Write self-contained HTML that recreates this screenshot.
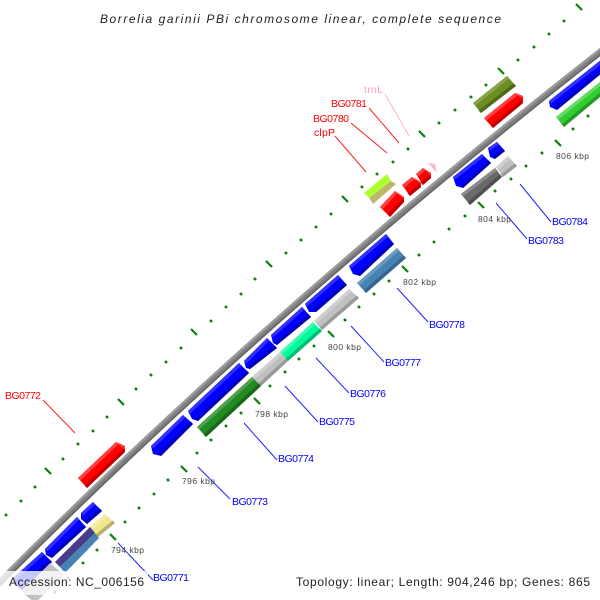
<!DOCTYPE html>
<html><head><meta charset="utf-8"><style>html,body{margin:0;padding:0;background:#fff}svg{display:block}text{font-family:"Liberation Sans","DejaVu Sans",sans-serif}</style></head><body>
<svg width="600" height="600" viewBox="0 0 600 600" xmlns="http://www.w3.org/2000/svg">
<rect width="600" height="600" fill="#fff"/>
<g stroke="#0a800a" fill="none">
<path stroke-width="2.6" d="M5 514l2 2M20 500l2 2M34 486l2 2M62 458l2 2M77 443l2 2M92 430l2 2M106 416l2 2M135 388l2 2M150 374l2 2M165 361l2 2M180 347l2 2M210 320l2 2M225 306l2 2M240 293l2 2M254 278l2 2M285 252l2 2M300 239l2 2M315 226l2 2M330 213l2 2M361 186l2 2M376 173l2 2M392 161l2 2M407 148l2 2M438 122l2 2M454 109l2 2M470 96l2 2M485 84l2 2M517 59l2 2M533 46l2 2M548 33l2 2M563 20l2 2"/>
<path stroke-width="2.2" d="M45 468l6 6M118 399l6 6M191 329l6 6M266 261l6 6M342 196l6 6M419 131l6 6M498 68l6 6M576 4l6 6"/>
<path stroke-width="2.6" d="M54 591l2 2M67 577l2 2M82 562l2 2M96 549l2 2M124 521l2 2M138 507l2 2M153 493l2 2M167 479l2 2M196 452l2 2M210 439l2 2M225 425l2 2M240 412l2 2M269 385l2 2M284 371l2 2M298 358l2 2M313 345l2 2M344 319l2 2M358 306l2 2M373 293l2 2M388 280l2 2M418 254l2 2M433 241l2 2M448 228l2 2M464 215l2 2M494 190l2 2M510 178l2 2M525 165l2 2M541 152l2 2M572 128l2 2M587 115l2 2M602 102l2 2"/>
<path stroke-width="2.2" d="M110 534l6 6M181 466l6 6M254 398l6 6M328 331l6 6M402 266l6 6M478 202l6 6M555 140l6 6"/>
</g>

<path d="M-10 592L0 582Q267 313 600 52L620 36" fill="none" stroke="#808080" stroke-width="6.5"/>
<path d="M-10 592L0 582Q267 313 600 52L620 36" fill="none" stroke="#9c9c9c" stroke-width="2.2" transform="translate(-1.4,-1.6)"/>
<path d="M-10 592L0 582Q267 313 600 52L620 36" fill="none" stroke="#686868" stroke-width="1.8" transform="translate(1.7,1.9)"/>

<!-- blue genes -->
<g fill="#0000ff">
<polygon points="93,502 102,511 87,524 81,519 81,513"/>
<polygon points="77,517 86,527 52,558 46,555 45,549"/>
<polygon points="42,552 52,562 22,590 14,584 13,578"/>
<polygon points="183,415 193,424 161,456 153,454 151,446"/>
<polygon points="239,363 249,373 198,421 192,419 188,411"/>
<polygon points="267,338 277,348 250,369 246,368 244,361"/>
<polygon points="302,307 311,317 277,345 273,343 271,335"/>
<polygon points="338,275 347,285 316,312 309,312 305,304"/>
<polygon points="386,234 394,244 360,276 353,274 349,266"/>
<polygon points="620,45 630,50 557,110 550,107 549,101"/>
<polygon points="497,142 505,151 495,159 490,157 488,148"/>
<polygon points="482,154 491,163 463,188 456,186 453,177"/>
</g>
<g fill="#3030ff">
<polygon points="81,513 93,502 95.3,504.5 83.3,515.5"/>
<polygon points="45,549 77,517 79.3,519.5 47.3,551.5"/>
<polygon points="13,578 42,552 44.3,554.5 15.3,580.5"/>
<polygon points="151,446 183,415 185.3,417.5 153.3,448.5"/>
<polygon points="188,411 239,363 241.3,365.5 190.3,413.5"/>
<polygon points="244,361 267,338 269.3,340.5 246.3,363.5"/>
<polygon points="271,335 302,307 304.3,309.5 273.3,337.5"/>
<polygon points="305,304 338,275 340.3,277.5 307.3,306.5"/>
<polygon points="349,266 386,234 388.3,236.5 351.3,268.5"/>
<polygon points="549,101 620,45 622.3,47.5 551.3,103.5"/>
<polygon points="488,148 497,142 499.3,144.5 490.3,150.5"/>
<polygon points="453,177 482,154 484.3,156.5 455.3,179.5"/>
</g>
<g fill="#0000b8">
<polygon points="87,524 102,511 99.7,508.5 84.7,521.5"/>
<polygon points="52,558 86,527 83.7,524.5 49.7,555.5"/>
<polygon points="22,590 52,562 49.7,559.5 19.7,587.5"/>
<polygon points="161,456 193,424 190.7,421.5 158.7,453.5"/>
<polygon points="198,421 249,373 246.7,370.5 195.7,418.5"/>
<polygon points="250,369 277,348 274.7,345.5 247.7,366.5"/>
<polygon points="277,345 311,317 308.7,314.5 274.7,342.5"/>
<polygon points="316,312 347,285 344.7,282.5 313.7,309.5"/>
<polygon points="360,276 394,244 391.7,241.5 357.7,273.5"/>
<polygon points="557,110 630,50 627.7,47.5 554.7,107.5"/>
<polygon points="495,159 505,151 502.7,148.5 492.7,156.5"/>
<polygon points="463,188 491,163 488.7,160.5 460.7,185.5"/>
</g>

<!-- red genes -->
<g fill="#ff0000">
<polygon points="78,478 116,442 125,446 125,452 87,488"/>
<polygon points="380,207 395,191 404,197 404,202 390,217"/>
<polygon points="402,185 412,177 421,182 421,187 410,196"/>
<polygon points="416,174 423,168 431,173 431,178 423,185"/>
<polygon points="484,118 515,93 523,96 523,103 493,128"/>
</g>
<g fill="#ff4040">
<polygon points="78,478 116,442 125,446 125,449 118.3,444.5 80.3,480.5"/>
<polygon points="380,207 395,191 404,197 404,199 397.3,193.5 382.3,209.5"/>
<polygon points="402,185 412,177 421,182 421,184 414.3,179.5 404.3,187.5"/>
<polygon points="416,174 423,168 431,173 431,175 425.3,170.5 418.3,176.5"/>
<polygon points="484,118 515,93 523,96 523,98 517.3,95.5 486.3,120.5"/>
</g>
<g fill="#c00000">
<polygon points="87,488 125,452 122.7,449.5 84.7,485.5"/>
<polygon points="390,217 404,202 401.7,199.5 387.7,214.5"/>
<polygon points="410,196 421,187 418.7,184.5 407.7,193.5"/>
<polygon points="423,185 431,178 428.7,175.5 420.7,182.5"/>
<polygon points="493,128 523,103 520.7,100.5 490.7,125.5"/>
</g>

<!-- pink -->
<polygon points="428,163 435,164 437,173" fill="#ffb6c1"/>

<!-- rectangular genes -->
<polygon points="50,563 64,575 35,603 22,592" fill="#c0c0c0"/>
<polygon points="105,514 115,523 98,537 90,527" fill="#f0e68c"/>
<polygon points="90,527 105,514 107.3,516.5 92.3,529.5" fill="#f5eca8"/>
<polygon points="98,537 115,523 112.7,520.5 95.7,534.5" fill="#b8b06a"/>
<polygon points="90,527 95,533 60,567 55,562" fill="#483d8b"/>
<polygon points="95,533 99,538 65,573 60,567" fill="#4682b4"/>

<polygon points="397,248 406,258 366,293 357,283" fill="#4682b4"/>
<polygon points="357,283 397,248 399.3,250.5 359.3,285.5" fill="#6a9bc3"/>
<polygon points="366,293 406,258 403.7,255.5 363.7,290.5" fill="#366590"/>

<polygon points="349,289 359,298 322,330 314,321" fill="#c0c0c0"/>
<polygon points="314,321 349,289 351.3,291.5 316.3,323.5" fill="#d0d0d0"/>
<polygon points="322,330 359,298 356.7,295.5 319.7,327.5" fill="#9a9a9a"/>

<polygon points="313,322 322,331 288,361 280,352" fill="#00fa9a"/>
<polygon points="280,352 313,322 315.3,324.5 282.3,354.5" fill="#40fbb3"/>
<polygon points="288,361 322,331 319.7,328.5 285.7,358.5" fill="#00bc74"/>

<polygon points="280,352 288,361 261,386 252,377" fill="#c0c0c0"/>
<polygon points="252,377 280,352 282.3,354.5 254.3,379.5" fill="#d0d0d0"/>
<polygon points="261,386 288,361 285.7,358.5 258.7,383.5" fill="#9a9a9a"/>

<polygon points="252,377 261,386 206,437 197,427" fill="#228b22"/>
<polygon points="197,427 252,377 254.3,379.5 199.3,429.5" fill="#4ea04e"/>
<polygon points="206,437 261,386 258.7,383.5 203.7,434.5" fill="#196819"/>

<polygon points="387,174 391,181 369,198 364,193" fill="#adff2f"/>
<polygon points="391,181 396,184 373,204 369,198" fill="#bdb76b"/>

<polygon points="507,76 516,86 481,113 473,103" fill="#6b8e23"/>
<polygon points="473,103 507,76 509.3,78.5 475.3,105.5" fill="#88a34f"/>
<polygon points="481,113 516,86 513.7,83.5 478.7,110.5" fill="#506a1a"/>

<polygon points="620,66 630,72 564,127 556,117" fill="#32cd32"/>
<polygon points="556,117 620,66 622.3,68.5 558.3,119.5" fill="#65da65"/>
<polygon points="564,127 630,72 627.7,69.5 561.7,124.5" fill="#269a26"/>

<polygon points="508,156 517,166 503,177 496,167" fill="#c0c0c0"/>
<polygon points="496,167 508,156 510.3,158.5 498.3,169.5" fill="#d0d0d0"/>
<polygon points="503,177 517,166 514.7,163.5 500.7,174.5" fill="#9a9a9a"/>

<polygon points="495,168 502,177 470,205 461,194" fill="#696969"/>
<polygon points="461,194 495,168 497.3,170.5 463.3,196.5" fill="#8a8a8a"/>
<polygon points="470,205 502,177 499.7,174.5 467.7,202.5" fill="#4f4f4f"/>

<!-- label lines -->
<path d="M118 543L153 580M198 467L230 499M244 423L277 460M285 386L318 422M316 358L349 393M351 326L384 362M397 288L428 322M496 203L527 239M520 184L551 222" fill="none" stroke="#2222ff" stroke-width="1"/>
<path d="M43 400L75 433M335 136L366 172M351 123L387 153M369 108L399 143" fill="none" stroke="#ff2222" stroke-width="1"/>
<path d="M385 94L409 136" fill="none" stroke="#ffb6c1" stroke-width="1"/>

<!-- labels -->
<g fill="#0000ff" font-size="10.5">
<text x="153" y="581" textLength="36">BG0771</text>
<text x="232" y="505" textLength="36">BG0773</text>
<text x="278" y="462" textLength="36">BG0774</text>
<text x="319" y="425" textLength="36">BG0775</text>
<text x="350" y="397" textLength="36">BG0776</text>
<text x="385" y="366" textLength="36">BG0777</text>
<text x="429" y="328" textLength="36">BG0778</text>
<text x="528" y="244" textLength="36">BG0783</text>
<text x="552" y="225" textLength="36">BG0784</text>
</g>
<g fill="#ff0000" font-size="10.5">
<text x="5" y="399" textLength="36">BG0772</text>
<text x="314" y="136" textLength="21">clpP</text>
<text x="313" y="122" textLength="36">BG0780</text>
<text x="331" y="107" textLength="36">BG0781</text>
</g>
<text x="364" y="93" font-size="10.5" fill="#ffa0b8" textLength="19">trnL</text>
<g fill="#444" font-size="8.5">
<text x="111" y="553" textLength="33">794 kbp</text>
<text x="182" y="484" textLength="33">796 kbp</text>
<text x="255" y="417" textLength="33">798 kbp</text>
<text x="328" y="350" textLength="33">800 kbp</text>
<text x="403" y="285" textLength="33">802 kbp</text>
<text x="478" y="222" textLength="33">804 kbp</text>
<text x="556" y="159" textLength="33">806 kbp</text>
</g>

<rect x="0" y="571" width="148" height="24" fill="#fff" fill-opacity="0.78"/>
<text x="100" y="23" font-size="12" font-style="italic" fill="#222" textLength="401">Borrelia garinii PBi chromosome linear, complete sequence</text>
<text x="9" y="586" font-size="12" fill="#222" textLength="135">Accession: NC_006156</text>
<text x="296" y="586" font-size="12" fill="#222" textLength="294">Topology: linear; Length: 904,246 bp; Genes: 865</text>
</svg>
</body></html>
